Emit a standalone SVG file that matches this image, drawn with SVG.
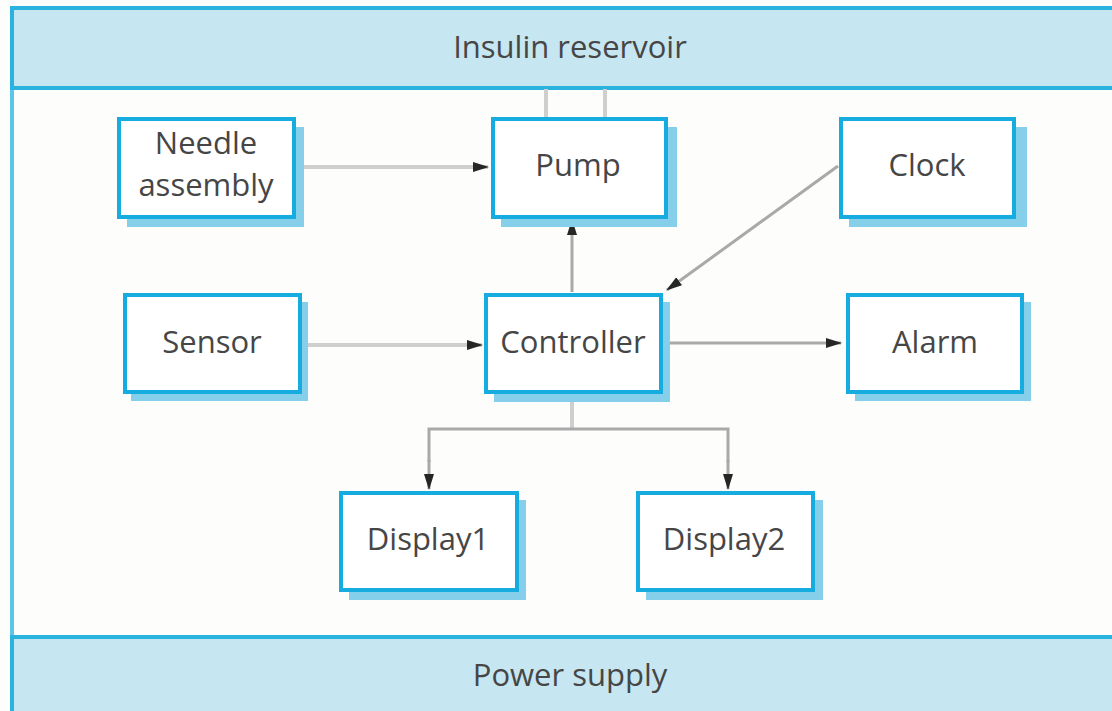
<svg xmlns="http://www.w3.org/2000/svg" width="1112" height="711" viewBox="0 0 1112 711">
<style>
.band{fill:#c6e7f1;stroke:#2bb3e0;stroke-width:4}
.box{fill:#ffffff;stroke:#16ace0;stroke-width:4}
.shadow{fill:#86cfea}
.t{font-family:"Open Sans","Noto Sans",sans-serif;font-size:31px;fill:#464646;text-anchor:middle}
.c{fill:none;stroke:#a9a9a9;stroke-width:3}
.cl{fill:none;stroke:#cfcfcf;stroke-width:4}
</style>
<defs>
<marker id="ah" markerWidth="16" markerHeight="12" refX="15" refY="6" orient="auto" markerUnits="userSpaceOnUse" viewBox="0 0 16 12">
<path d="M0,1 L16,6 L0,11 Z" fill="#262626"/>
</marker>
</defs>
<rect width="1112" height="711" fill="#fdfdfc"/>
<g id="frame">
<line x1="12" y1="8" x2="12" y2="711" stroke="#5cc5e8" stroke-width="4"/>
</g>
<g id="insulin-reservoir">
<rect class="band" x="12" y="8" width="1110" height="80"/>
<text class="t" x="570" y="58">Insulin reservoir</text>
</g>
<g id="power-supply">
<rect class="band" x="12" y="637" width="1110" height="90"/>
<text class="t" x="570" y="686">Power supply</text>
</g>
<g id="connectors">
<line class="cl" x1="546" y1="89" x2="546" y2="118"/>
<line class="cl" x1="605" y1="89" x2="605" y2="118"/>
<line class="cl" x1="296" y1="167" x2="488" y2="167" marker-end="url(#ah)"/>
<line class="cl" x1="301" y1="345" x2="482" y2="345" marker-end="url(#ah)"/>
<line class="c" x1="572" y1="292" x2="572" y2="220" marker-end="url(#ah)"/>
<line class="c" x1="838" y1="166" x2="667" y2="290" stroke="#b3b3b3" marker-end="url(#ah)"/>
<line class="c" x1="667" y1="343" x2="841" y2="343" stroke="#9a9a9a" marker-end="url(#ah)"/>
<line class="cl" x1="572" y1="400" x2="572" y2="429"/>
<polyline class="c" points="429,462 429,429 728,429 728,462"/>
<line class="c" x1="429" y1="460" x2="429" y2="489" marker-end="url(#ah)"/>
<line class="c" x1="728" y1="460" x2="728" y2="489" marker-end="url(#ah)"/>
</g>
<g id="needle-assembly">
<rect class="shadow" x="127" y="127" width="177" height="100"/>
<rect class="box" x="119" y="119" width="175" height="98"/>
<text class="t" x="206" y="154">Needle</text>
<text class="t" x="206" y="196">assembly</text>
</g>
<g id="pump">
<rect class="shadow" x="501" y="127" width="176" height="100"/>
<rect class="box" x="493" y="119" width="173" height="98"/>
<text class="t" x="578" y="176">Pump</text>
</g>
<g id="clock">
<rect class="shadow" x="849" y="127" width="178" height="100"/>
<rect class="box" x="841" y="119" width="173" height="98"/>
<text class="t" x="927" y="176">Clock</text>
</g>
<g id="sensor">
<rect class="shadow" x="131" y="302" width="177" height="99"/>
<rect class="box" x="125" y="295" width="175" height="97"/>
<text class="t" x="212" y="353">Sensor</text>
</g>
<g id="controller">
<rect class="shadow" x="494" y="302" width="176" height="100"/>
<rect class="box" x="486" y="295" width="175" height="97"/>
<text class="t" x="573" y="353">Controller</text>
</g>
<g id="alarm">
<rect class="shadow" x="855" y="302" width="176" height="99"/>
<rect class="box" x="848" y="295" width="174" height="97"/>
<text class="t" x="935" y="353">Alarm</text>
</g>
<g id="display1">
<rect class="shadow" x="349" y="500" width="177" height="100"/>
<rect class="box" x="341" y="493" width="176" height="97"/>
<text class="t" x="428" y="550">Display1</text>
</g>
<g id="display2">
<rect class="shadow" x="646" y="500" width="177" height="100"/>
<rect class="box" x="638" y="493" width="175" height="97"/>
<text class="t" x="724" y="550">Display2</text>
</g>
</svg>
